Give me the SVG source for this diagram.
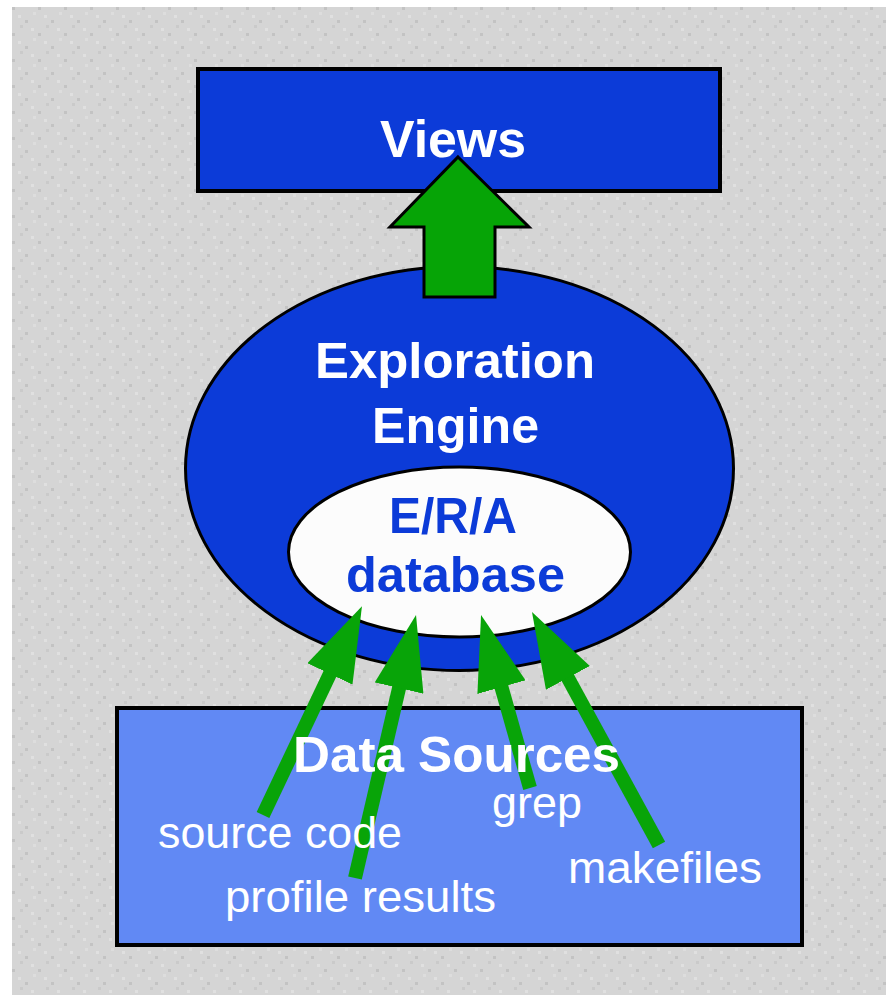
<svg xmlns="http://www.w3.org/2000/svg" width="886" height="995" viewBox="0 0 886 995">
<style>
.bold{font-family:"Liberation Sans",Arial,sans-serif;font-weight:bold;}
.reg{font-family:"Liberation Sans",Arial,sans-serif;font-weight:normal;fill:#ffffff;font-size:44px;}
.wt{fill:#ffffff;}
.node{stroke:#000;}
.thin{stroke:#08a408;stroke-width:14;fill:none;marker-end:url(#head);}
</style>
<defs>
<pattern id="dots" x="12" y="7" width="26" height="26" patternUnits="userSpaceOnUse">
<rect width="26" height="26" fill="#d5d5d5"/>
<rect x="0" y="0" width="3" height="3" fill="#c3c3c3"/>
<rect x="13" y="13" width="3" height="3" fill="#c3c3c3"/>
<rect x="6" y="8" width="3" height="3" fill="#e0e0e0"/>
<rect x="19" y="21" width="3" height="3" fill="#e0e0e0"/>
<rect x="8" y="18" width="3" height="3" fill="#cacaca"/>
<rect x="21" y="5" width="3" height="3" fill="#dddddd"/>
</pattern>
<marker id="head" markerUnits="userSpaceOnUse" viewBox="0 0 75 50" refX="5" refY="25" markerWidth="75" markerHeight="50" orient="auto">
<path d="M0,0 L75,25 L0,50 Z" fill="#08a408"/>
</marker>
</defs>
<rect x="0" y="0" width="886" height="995" fill="#ffffff"/>
<rect x="12" y="7" width="874" height="988" fill="url(#dots)"/>

<g id="views">
<rect class="node" x="198" y="69" width="522" height="122" fill="#0c3bd8" stroke-width="4"/>
</g>

<g id="engine">
<ellipse class="node" cx="459.5" cy="468.5" rx="274" ry="202" fill="#0c3bd8" stroke-width="3"/>
</g>

<g id="connectors">
<polygon points="458,157 529,227 495,227 495,297 424,297 424,227 390,227" fill="#06a406" stroke="#000" stroke-width="3" stroke-linejoin="miter"/>
</g>

<g id="database">
<ellipse class="node" cx="459.5" cy="552" rx="171" ry="85" fill="#fcfcfc" stroke-width="3"/>
</g>

<g id="datasources">
<rect class="node" x="117" y="708" width="685" height="237" fill="#6189f4" stroke-width="4"/>
</g>

<g id="data-arrows">
<line class="thin" x1="263" y1="815" x2="332" y2="669.4"/>
<line class="thin" x1="355" y1="878" x2="400.2" y2="683.2"/>
<line class="thin" x1="530" y1="788" x2="500.1" y2="682.3"/>
<line class="thin" x1="659" y1="845" x2="565.5" y2="673.5"/>
</g>

<g id="labels">
<text class="bold wt" x="380" y="157" font-size="52" textLength="146" lengthAdjust="spacingAndGlyphs">Views</text>
<text class="bold wt" x="315" y="378" font-size="50" textLength="280" lengthAdjust="spacingAndGlyphs">Exploration</text>
<text class="bold wt" x="372" y="443" font-size="50" textLength="167" lengthAdjust="spacingAndGlyphs">Engine</text>
<text class="bold" x="389" y="533" font-size="50" fill="#0c3bd8" textLength="128" lengthAdjust="spacingAndGlyphs">E/R/A</text>
<text class="bold" x="346" y="592" font-size="50" fill="#0c3bd8" textLength="219" lengthAdjust="spacingAndGlyphs">database</text>
<text class="bold wt" x="293" y="772" font-size="50" textLength="327" lengthAdjust="spacingAndGlyphs">Data Sources</text>
<text class="reg" x="158" y="848" textLength="244" lengthAdjust="spacingAndGlyphs">source code</text>
<text class="reg" x="225" y="912" textLength="271" lengthAdjust="spacingAndGlyphs">profile results</text>
<text class="reg" x="492" y="818" textLength="90" lengthAdjust="spacingAndGlyphs">grep</text>
<text class="reg" x="568" y="883" textLength="194" lengthAdjust="spacingAndGlyphs">makefiles</text>
</g>
</svg>
